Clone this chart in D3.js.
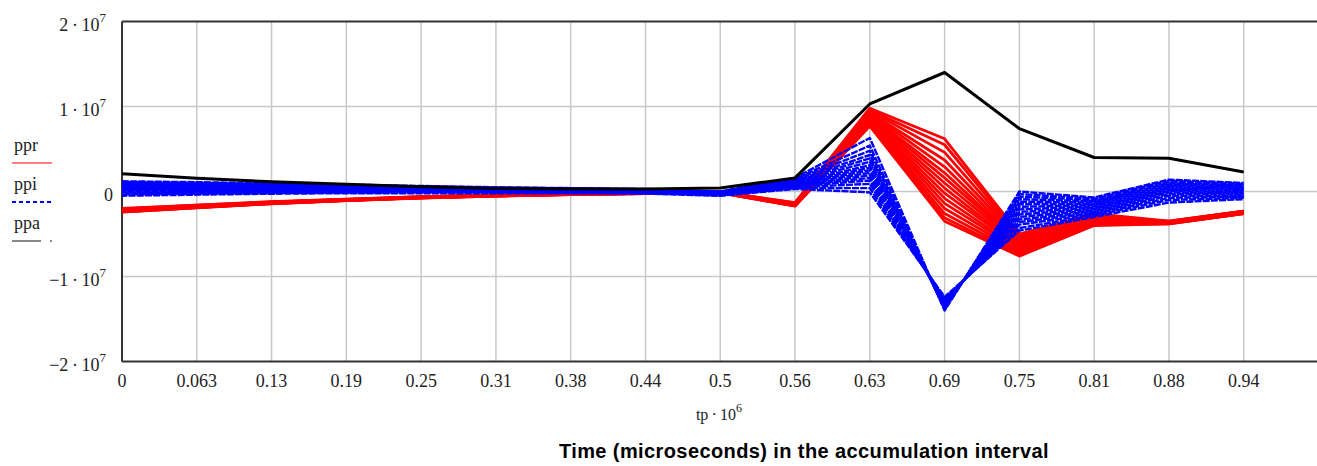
<!DOCTYPE html>
<html>
<head>
<meta charset="utf-8">
<script src="https://cdn.jsdelivr.net/npm/d3@7"></script>
<style>
  html, body { margin: 0; padding: 0; background: #fff; }
  svg { display: block; }
</style>
</head>
<body>
<div id="chart"></div>
<script>
// ---- data (values in units of 1e6) ----
const tp = [0, 0.0625, 0.125, 0.1875, 0.25, 0.3125, 0.375, 0.4375, 0.5, 0.5625, 0.625, 0.6875, 0.75, 0.8125, 0.875, 0.9375];
const xTickLabels = ["0", "0.063", "0.13", "0.19", "0.25", "0.31", "0.38", "0.44", "0.5", "0.56", "0.63", "0.69", "0.75", "0.81", "0.88", "0.94"];
const yTickValues = [2e7, 1e7, 0, -1e7, -2e7];
const yTickBase = ["2\u2009·\u200910", "1\u2009·\u200910", "0", "−1\u2009·\u200910", "−2\u2009·\u200910"];
const yTickExp = ["7", "7", "", "7", "7"];
const legendNames = ["ppr", "ppi", "ppa"];

const ppr = [
  [-2.00,-1.60,-1.20,-0.90,-0.60,-0.40,-0.25,-0.15,-0.05,-1.30,9.8,6.2,-5.0,-2.60,-3.50,-2.30],
  [-2.05,-1.62,-1.22,-0.92,-0.62,-0.41,-0.26,-0.16,-0.06,-1.35,9.6,5.5,-5.2,-2.80,-3.50,-2.30],
  [-2.10,-1.65,-1.25,-0.93,-0.64,-0.42,-0.27,-0.17,-0.07,-1.40,9.5,4.6,-5.4,-2.90,-3.55,-2.35],
  [-2.12,-1.68,-1.27,-0.95,-0.65,-0.43,-0.28,-0.18,-0.08,-1.42,9.3,3.7,-5.6,-3.00,-3.55,-2.35],
  [-2.15,-1.70,-1.28,-0.96,-0.66,-0.44,-0.29,-0.18,-0.09,-1.45,9.2,2.9,-5.8,-3.10,-3.60,-2.40],
  [-2.18,-1.72,-1.30,-0.97,-0.67,-0.45,-0.30,-0.19,-0.10,-1.47,9.0,2.2,-6.0,-3.20,-3.60,-2.40],
  [-2.20,-1.74,-1.31,-0.98,-0.68,-0.46,-0.31,-0.20,-0.10,-1.50,8.9,1.6,-6.1,-3.30,-3.60,-2.45],
  [-2.23,-1.76,-1.33,-0.99,-0.69,-0.47,-0.32,-0.20,-0.11,-1.52,8.7,1.0,-6.3,-3.35,-3.65,-2.45],
  [-2.25,-1.78,-1.34,-1.00,-0.70,-0.48,-0.32,-0.21,-0.12,-1.55,8.6,0.4,-6.5,-3.45,-3.65,-2.50],
  [-2.28,-1.80,-1.35,-1.01,-0.71,-0.49,-0.33,-0.22,-0.12,-1.57,8.4,-0.2,-6.6,-3.50,-3.70,-2.50],
  [-2.30,-1.82,-1.37,-1.02,-0.72,-0.50,-0.34,-0.22,-0.13,-1.60,8.3,-0.8,-6.8,-3.60,-3.70,-2.50],
  [-2.33,-1.84,-1.38,-1.03,-0.73,-0.50,-0.34,-0.23,-0.14,-1.62,8.2,-1.4,-6.9,-3.70,-3.70,-2.55],
  [-2.35,-1.86,-1.40,-1.04,-0.74,-0.51,-0.35,-0.23,-0.14,-1.65,8.0,-2.0,-7.1,-3.80,-3.75,-2.55],
  [-2.38,-1.88,-1.41,-1.05,-0.75,-0.52,-0.36,-0.24,-0.15,-1.67,7.9,-2.6,-7.3,-3.85,-3.75,-2.60],
  [-2.40,-1.90,-1.42,-1.06,-0.76,-0.53,-0.36,-0.24,-0.15,-1.70,7.8,-3.1,-7.5,-3.90,-3.80,-2.60],
  [-2.42,-1.92,-1.44,-1.07,-0.77,-0.54,-0.37,-0.25,-0.16,-1.72,7.7,-3.5,-7.6,-4.00,-3.80,-2.60]
];

const ppi = [
  [1.20,1.10,0.95,0.80,0.65,0.50,0.40,0.30,0.00,1.60,6.3,-14.0,0.0,-0.70,1.40,1.00],
  [1.10,1.00,0.88,0.74,0.60,0.46,0.36,0.27,-0.03,1.50,5.4,-13.9,-0.3,-0.85,1.25,0.90],
  [1.00,0.90,0.80,0.68,0.55,0.42,0.33,0.24,-0.06,1.40,4.8,-13.8,-0.6,-1.00,1.10,0.80],
  [0.90,0.82,0.72,0.62,0.50,0.38,0.30,0.21,-0.09,1.30,4.3,-13.7,-0.9,-1.15,0.95,0.70],
  [0.80,0.73,0.65,0.56,0.45,0.35,0.27,0.18,-0.12,1.20,3.9,-13.6,-1.2,-1.30,0.80,0.55],
  [0.70,0.64,0.57,0.50,0.40,0.31,0.24,0.15,-0.15,1.10,3.5,-13.5,-1.5,-1.45,0.65,0.45],
  [0.60,0.55,0.50,0.43,0.35,0.27,0.20,0.12,-0.18,1.00,3.1,-13.4,-1.8,-1.60,0.50,0.30],
  [0.50,0.46,0.42,0.37,0.30,0.23,0.17,0.09,-0.20,0.90,2.8,-13.3,-2.1,-1.75,0.35,0.20],
  [0.40,0.37,0.34,0.30,0.25,0.19,0.14,0.06,-0.23,0.85,2.5,-13.2,-2.4,-1.90,0.20,0.05],
  [0.30,0.28,0.26,0.24,0.20,0.15,0.10,0.03,-0.26,0.80,2.2,-13.1,-2.7,-2.05,0.05,-0.10],
  [0.20,0.19,0.18,0.17,0.15,0.11,0.07,0.00,-0.29,0.70,1.9,-13.0,-3.0,-2.20,-0.10,-0.20],
  [0.10,0.10,0.10,0.10,0.10,0.07,0.04,-0.03,-0.32,0.65,1.6,-12.9,-3.3,-2.35,-0.30,-0.35],
  [-0.05,-0.02,0.00,0.03,0.04,0.03,0.00,-0.07,-0.36,0.60,1.3,-12.8,-3.6,-2.50,-0.50,-0.50],
  [-0.20,-0.13,-0.08,-0.04,-0.03,-0.03,-0.05,-0.12,-0.40,0.50,0.9,-12.7,-3.9,-2.65,-0.75,-0.60],
  [-0.35,-0.25,-0.17,-0.12,-0.10,-0.10,-0.12,-0.18,-0.45,0.40,0.4,-12.6,-4.3,-2.80,-1.00,-0.75],
  [-0.50,-0.37,-0.26,-0.20,-0.20,-0.20,-0.20,-0.25,-0.50,0.30,-0.1,-12.4,-4.6,-3.00,-1.30,-0.90]
];

const ppa = [
  [2.10,1.55,1.15,0.85,0.55,0.35,0.30,0.30,0.40,1.60,10.3,14.0,7.4,4.00,3.90,2.30]
];

// ---- layout ----
const W = 1317, H = 466;
const svg = d3.select("#chart").append("svg").attr("width", W).attr("height", H);

const x = d3.scaleLinear().domain([0, 1]).range([122, 1318.5]);
const y = d3.scaleLinear().domain([-2e7, 2e7]).range([361.5, 21.5]);

// grid
const grid = svg.append("g");
grid.selectAll("line.vg").data(tp.slice(1)).enter().append("line")
  .attr("x1", d => x(d)).attr("x2", d => x(d))
  .attr("y1", y(2e7)).attr("y2", y(-2e7))
  .attr("stroke", "#c8c8c8").attr("stroke-width", 1.5);
grid.selectAll("line.hg").data(yTickValues.slice(1, -1)).enter().append("line")
  .attr("x1", x(0)).attr("x2", W)
  .attr("y1", d => y(d)).attr("y2", d => y(d))
  .attr("stroke", "#c8c8c8").attr("stroke-width", 1.5);

// frame
const frame = svg.append("g").attr("stroke", "#333").attr("stroke-width", 2).attr("fill", "none");
frame.append("line").attr("x1", x(0)).attr("x2", W).attr("y1", y(2e7)).attr("y2", y(2e7));
frame.append("line").attr("x1", x(0)).attr("x2", W).attr("y1", y(-2e7)).attr("y2", y(-2e7));
frame.append("line").attr("x1", x(0)).attr("x2", x(0)).attr("y1", y(2e7)).attr("y2", y(-2e7));

// series
const line = d3.line().x((d, i) => x(tp[i])).y(d => y(d * 1e6));
const plot = svg.append("g");
plot.selectAll("path.r").data(ppr).enter().append("path")
  .attr("d", line).attr("fill", "none").attr("stroke", "#ff0000").attr("stroke-width", 2.8)
  .attr("stroke-linejoin", "round");
plot.selectAll("path.b").data(ppi).enter().append("path")
  .attr("d", line).attr("fill", "none").attr("stroke", "#0000ff").attr("stroke-width", 2.4)
  .attr("stroke-dasharray", "7,1.2").attr("stroke-dashoffset", (d, i) => i * 2.3)
  .attr("stroke-linejoin", "round");
plot.selectAll("path.k").data(ppa).enter().append("path")
  .attr("d", line).attr("fill", "none").attr("stroke", "#000").attr("stroke-width", 3)
  .attr("stroke-linejoin", "round");

// x tick labels
svg.append("g").selectAll("text").data(tp).enter().append("text")
  .attr("x", d => x(d)).attr("y", 387)
  .attr("text-anchor", "middle")
  .attr("font-family", "Liberation Serif, serif").attr("font-size", 18).attr("fill", "#222")
  .text((d, i) => xTickLabels[i]);

// y tick labels
const yl = svg.append("g").selectAll("text").data(yTickValues).enter().append("text")
  .attr("x", (d, i) => yTickExp[i] ? 106 : 113)
  .attr("y", d => y(d) + 9)
  .attr("text-anchor", "end")
  .attr("font-family", "Liberation Serif, serif").attr("font-size", 18).attr("fill", "#222");
yl.append("tspan").text((d, i) => yTickBase[i]);
yl.append("tspan").attr("font-size", 13).attr("dy", -9).text((d, i) => yTickExp[i]);

// x axis variable label
const xl = svg.append("text").attr("x", 719).attr("y", 420).attr("text-anchor", "middle")
  .attr("font-family", "Liberation Serif, serif").attr("font-size", 16).attr("fill", "#222");
xl.append("tspan").text("tp\u2009·\u200910");
xl.append("tspan").attr("font-size", 12).attr("dy", -8).text("6");

// title
svg.append("text").attr("x", 804).attr("y", 458).attr("text-anchor", "middle")
  .attr("font-family", "Liberation Sans, Arial, sans-serif").attr("font-weight", "bold")
  .attr("font-size", 20).attr("letter-spacing", 0.4).attr("fill", "#000")
  .text("Time (microseconds) in the accumulation interval");

// legend
const legColors = ["#ff8080", "#0000ff", "#888"];
const legDash = [null, "4,3", null];
const legY = [163, 202, 241];
const leg = svg.append("g");
legendNames.forEach((n, i) => {
  leg.append("text").attr("x", 14).attr("y", legY[i] - 12)
    .attr("font-family", "Liberation Serif, serif").attr("font-size", 18).attr("fill", "#222").text(n);
  leg.append("line").attr("x1", 12).attr("x2", i === 2 ? 41 : 52).attr("y1", legY[i]).attr("y2", legY[i])
    .attr("stroke", legColors[i]).attr("stroke-width", 2).attr("stroke-dasharray", legDash[i]);
  if (i === 2) leg.append("line").attr("x1", 50).attr("x2", 52).attr("y1", legY[i]).attr("y2", legY[i])
    .attr("stroke", legColors[i]).attr("stroke-width", 2);
});
</script>
</body>
</html>
